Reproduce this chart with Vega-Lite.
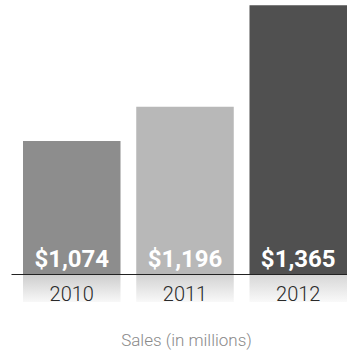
{
  "$schema": "https://vega.github.io/schema/vega-lite/v6.json",
  "width": 336,
  "height": 274,
  "autosize": {"type": "none"},
  "padding": {"left": 11, "top": 0, "right": 0, "bottom": 78},
  "background": "white",
  "config": {"view": {"stroke": null}, "font": "Roboto"},
  "data": {"values": [
    {"year": "2010", "sales": 1074},
    {"year": "2011", "sales": 1196},
    {"year": "2012", "sales": 1365}
  ]},
  "encoding": {
    "x": {
      "field": "year", "type": "nominal",
      "scale": {"paddingInner": 0.139, "paddingOuter": 0.053, "align": 1},
      "axis": {
        "zindex": 1, "domain": true, "domainColor": "#222", "domainWidth": 1,
        "ticks": false, "labelAngle": 0, "labelFontSize": 20, "labelColor": "#2a2a2a",
        "labelPadding": 10, "labelFont": "Roboto", "labelFontWeight": 300,
        "title": "Sales (in millions)", "titleFontSize": 17, "titleColor": "#8a8a8a",
        "titleFontWeight": 300, "titleFont": "Roboto",
        "titlePadding": 28, "titleX": 175
      }
    }
  },
  "layer": [
    {
      "mark": {"type": "bar", "fill": {"gradient": "linear", "x1": 0, "y1": 0, "x2": 0, "y2": 1,
        "stops": [{"offset": 0, "color": "#c0c0c0"}, {"offset": 1, "color": "#f6f6f6"}]}},
      "encoding": {
        "y": {"value": {"expr": "height"}},
        "y2": {"value": {"expr": "height + 28"}},
        "opacity": {"field": "year", "type": "nominal", "scale": {"range": [0.8, 0.65, 1]}, "legend": null}
      }
    },
    {
      "mark": {"type": "bar"},
      "encoding": {
        "y": {"field": "sales", "type": "quantitative",
          "scale": {"type": "pow", "exponent": 7.25, "domain": [-1281, 1371], "nice": false, "zero": false},
          "axis": null},
        "y2": {"datum": -1281},
        "color": {"field": "year", "type": "nominal",
          "scale": {"range": ["#8d8d8d", "#b8b8b8", "#505050"]}, "legend": null}
      }
    },
    {
      "mark": {"type": "text", "color": "white", "fontWeight": "bold", "fontSize": 24,
        "baseline": "alphabetic", "dy": -7, "font": "Roboto"},
      "encoding": {
        "y": {"value": {"expr": "height"}},
        "text": {"field": "sales", "type": "quantitative", "format": "$,.0f"}
      }
    }
  ]
}
